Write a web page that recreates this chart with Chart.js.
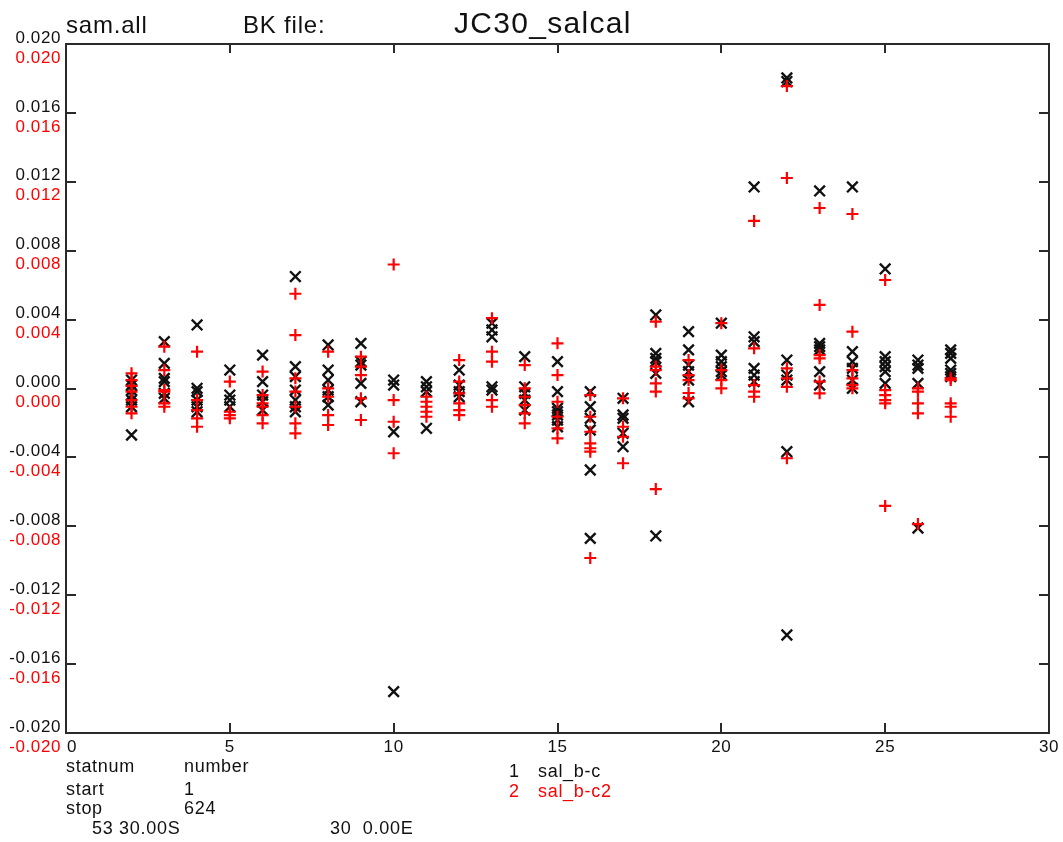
<!DOCTYPE html>
<html>
<head>
<meta charset="utf-8">
<script src="https://cdn.jsdelivr.net/npm/chart.js@4"></script>
<style>
  html, body { margin: 0; padding: 0; background: #ffffff; }
  #wrap { width: 1063px; height: 842px; }
</style>
</head>
<body>
<div id="wrap"><canvas id="c" width="1063" height="842"></canvas></div>
<script>
// ---- data ----
const stations = [2, 3, 4, 5, 6, 7, 8, 9, 10, 11, 12, 13, 14, 15, 16, 17, 18, 19, 20, 21, 22, 23, 24, 25, 26, 27];

// series 1: sal_b-c (black X), one list of values per station
const salBC = [
  [0.00049, 0.0002, -0.0001, -0.00038, -0.00067, -0.00106, -0.0027],
  [0.00272, 0.00146, 0.00059, 0.0004, -0.00028, -0.00057],
  [0.00369, 0.00001, -0.00018, -0.00067, -0.00106, -0.00135],
  [0.00107, -0.00038, -0.00067, -0.00106],
  [0.00194, 0.0004, -0.00038, -0.00077, -0.00125],
  [0.0065, 0.00127, 0.00069, -0.00009, -0.00067, -0.00106, -0.00135],
  [0.00253, 0.00107, 0.00049, -0.00009, -0.00048, -0.00096],
  [0.00262, 0.00156, 0.00136, 0.0003, -0.00077],
  [0.00049, 0.0002, -0.00251, -0.0176],
  [0.0004, 0.0001, -0.00018, -0.00231],
  [0.00107, 0.0002, -0.00018, -0.00048],
  [0.00379, 0.0034, 0.003, 0.0001, -0.00009],
  [0.00185, 0.0001, -0.00028, -0.00067, -0.00125],
  [0.00156, -0.00018, -0.00115, -0.00135, -0.00154, -0.00183, -0.00222],
  [-0.00018, -0.00106, -0.00173, -0.00241, -0.00473, -0.0087],
  [-0.00057, -0.00154, -0.00173, -0.0026, -0.00338],
  [0.00427, 0.00204, 0.00175, 0.00156, 0.00088, -0.00856],
  [0.0033, 0.00224, 0.00136, 0.00098, 0.00049, -0.00077],
  [0.00379, 0.00194, 0.00156, 0.00127, 0.00098, 0.00078],
  [0.0117, 0.003, 0.00272, 0.00117, 0.00078, 0.0004],
  [0.01803, 0.01782, 0.00165, 0.00078, 0.00049, -0.00367, -0.01431],
  [0.01147, 0.00262, 0.00243, 0.00224, 0.00098, 0.0002],
  [0.0117, 0.00214, 0.00156, 0.00117, 0.00049, 0.00001],
  [0.00694, 0.00185, 0.00156, 0.00127, 0.00098, 0.0003],
  [0.00165, 0.00136, 0.00117, 0.0003, -0.0081],
  [0.00224, 0.00204, 0.00175, 0.00107, 0.00088, 0.00069]
];

// series 2: sal_b-c2 (red +)
const salBC2 = [
  [0.00088, 0.00049, 0.00015, -0.00018, -0.00067, -0.00106, -0.00144],
  [0.00243, 0.00107, -0.00009, -0.00018, -0.00086, -0.00106],
  [0.00214, -0.00067, -0.00125, -0.00173, -0.00222],
  [0.0004, -0.00135, -0.00154, -0.00173],
  [0.00098, -0.00038, -0.00086, -0.00106, -0.00154, -0.00202],
  [0.0055, 0.0031, 0.00059, -0.00018, -0.00106, -0.00202, -0.0026],
  [0.00214, 0.00001, -0.00048, -0.00154, -0.00212],
  [0.00185, 0.00127, 0.00078, -0.00057, -0.00183],
  [0.0072, -0.00067, -0.00193, -0.00376],
  [-0.00048, -0.00077, -0.00106, -0.00135, -0.00164],
  [0.00165, 0.0004, -0.00028, -0.00086, -0.00125, -0.00154],
  [0.00408, 0.00214, 0.00156, -0.00067, -0.00106],
  [0.00136, 0.00001, -0.00048, -0.00096, -0.00144, -0.00202],
  [0.00262, 0.00078, -0.00077, -0.00164, -0.00231, -0.00289],
  [-0.00038, -0.00164, -0.00251, -0.00318, -0.00347, -0.00367, -0.00984],
  [-0.00057, -0.00222, -0.0028, -0.00434],
  [0.00388, 0.00127, 0.00107, 0.0003, -0.00018, -0.00584],
  [0.00165, 0.00078, 0.00049, -0.00026, -0.00057],
  [0.00379, 0.00107, 0.00049, 0.00001],
  [0.00973, 0.00233, 0.0002, -0.00018, -0.00048],
  [0.01756, 0.01222, 0.00117, 0.00059, 0.0001, -0.00405],
  [0.01048, 0.00485, 0.00194, 0.00175, 0.0004, -0.00028],
  [0.01013, 0.0033, 0.00107, 0.00059, 0.0002, 0.00001],
  [0.0063, -0.00009, -0.00038, -0.00067, -0.00086, -0.00682],
  [0.00001, -0.00018, -0.00086, -0.00144, -0.00787],
  [0.00059, 0.00049, -0.00086, -0.00106, -0.00164]
];

const xTicks = [0, 5, 10, 15, 20, 25, 30];
const yTicks = [-0.020, -0.016, -0.012, -0.008, -0.004, 0.000, 0.004, 0.008, 0.012, 0.016, 0.020];
const seriesNames = ['sal_b-c', 'sal_b-c2'];

// ---- build points ----
function toPoints(vals) {
  const pts = [];
  stations.forEach((s, i) => vals[i].forEach(v => pts.push({ x: s, y: v })));
  return pts;
}

const FONT = '"Liberation Sans", Arial, Helvetica, sans-serif';
const RED = '#ff0000';
const INK = '#111111';

const decor = {
  id: 'decor',
  afterDraw(chart) {
    const ctx = chart.ctx;
    const xs = chart.scales.x, ys = chart.scales.y;
    const a = chart.chartArea;
    ctx.save();
    // frame
    ctx.strokeStyle = '#2a2a2a';
    ctx.lineWidth = 2;
    ctx.strokeRect(a.left, a.top, a.right - a.left, a.bottom - a.top);
    // ticks inward
    ctx.beginPath();
    xTicks.forEach(t => {
      const px = Math.round(xs.getPixelForValue(t));
      ctx.moveTo(px, a.top); ctx.lineTo(px, a.top + 9);
      ctx.moveTo(px, a.bottom); ctx.lineTo(px, a.bottom - 10);
    });
    yTicks.forEach(t => {
      const py = Math.round(ys.getPixelForValue(t));
      ctx.moveTo(a.left, py); ctx.lineTo(a.left + 10, py);
      ctx.moveTo(a.right, py); ctx.lineTo(a.right - 10, py);
    });
    ctx.stroke();

    // y tick labels: black and red (second axis)
    ctx.letterSpacing = '0.6px';
    ctx.font = '17px ' + FONT;
    ctx.textAlign = 'right';
    ctx.textBaseline = 'middle';
    yTicks.forEach(t => {
      const py = ys.getPixelForValue(t);
      const lab = t.toFixed(3);
      ctx.fillStyle = INK;
      ctx.fillText(lab, a.left - 5, py - 6);
      ctx.fillStyle = RED;
      ctx.fillText(lab, a.left - 5, py + 14);
    });
    // x tick labels
    ctx.fillStyle = INK;
    xTicks.forEach(t => {
      const px = xs.getPixelForValue(t);
      ctx.textAlign = t === xTicks[0] ? 'left' : 'center';
      ctx.fillText(String(t), t === xTicks[0] ? px + 1 : px, a.bottom + 14);
    });

    // titles
    ctx.textAlign = 'left';
    ctx.textBaseline = 'alphabetic';
    ctx.font = '24px ' + FONT;
    ctx.letterSpacing = '0.8px';
    ctx.fillText('sam.all', 66, 33);
    ctx.fillText('BK file:', 243, 33);
    ctx.font = '30px ' + FONT;
    ctx.letterSpacing = '1.3px';
    ctx.fillText('JC30_salcal', 454, 33);

    // footer text
    ctx.font = '18px ' + FONT;
    ctx.letterSpacing = '0.7px';
    ctx.textBaseline = 'middle';
    ctx.fillText('statnum', 66, 767);
    ctx.fillText('number', 184, 767);
    ctx.fillText('start', 66, 790);
    ctx.fillText('1', 184, 790);
    ctx.fillText('stop', 66, 809);
    ctx.fillText('624', 184, 809);
    ctx.fillText('53 30.00S', 92, 829);
    ctx.fillText('30  0.00E', 330, 829);
    // legend
    ctx.fillText('1', 509, 772);
    ctx.fillText(seriesNames[0], 538, 772);
    ctx.fillStyle = RED;
    ctx.fillText('2', 509, 792);
    ctx.fillText(seriesNames[1], 538, 792);
    ctx.restore();
  }
};

new Chart(document.getElementById('c'), {
  type: 'scatter',
  data: {
    datasets: [
      {
        label: seriesNames[0],
        data: toPoints(salBC),
        pointStyle: 'crossRot',
        pointRadius: 7.5,
        pointHoverRadius: 7.5,
        borderColor: INK,
        backgroundColor: INK,
        pointBorderWidth: 2.4,
        order: 2
      },
      {
        label: seriesNames[1],
        data: toPoints(salBC2),
        pointStyle: 'cross',
        pointRadius: 6,
        pointHoverRadius: 6,
        borderColor: RED,
        backgroundColor: RED,
        pointBorderWidth: 2.2,
        order: 1
      }
    ]
  },
  options: {
    responsive: false,
    animation: false,
    events: [],
    layout: { padding: { left: 66, top: 44, right: 14, bottom: 109 } },
    plugins: { legend: { display: false }, tooltip: { enabled: false } },
    scales: {
      x: { type: 'linear', min: 0, max: 30, display: false },
      y: { type: 'linear', min: -0.02, max: 0.02, display: false }
    }
  },
  plugins: [decor]
});
</script>
</body>
</html>
